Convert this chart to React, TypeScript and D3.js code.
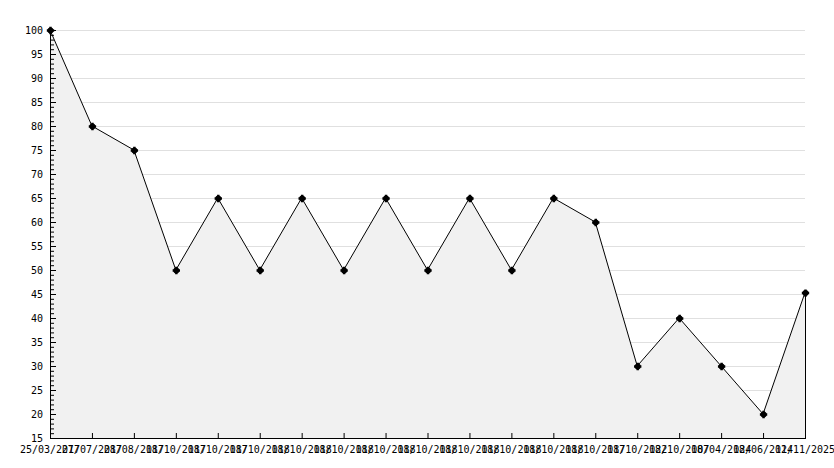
import React from "react";
import * as d3 from "d3";

const dates: string[] = [
  "25/03/2017", "27/07/2017", "28/08/2017", "18/10/2017", "18/10/2017",
  "18/10/2018", "18/10/2018", "18/10/2018", "18/10/2018", "18/10/2018",
  "18/10/2018", "18/10/2018", "18/10/2018", "18/10/2017", "18/10/2022",
  "18/10/2007", "18/04/2024", "18/06/2024", "11/11/2025",
];
const values: number[] = [
  100, 80, 75, 50, 65, 50, 65, 50, 65, 50, 65, 50, 65, 60, 30, 40, 30, 20, 45.3,
];
const yTicks: number[] = [15, 20, 25, 30, 35, 40, 45, 50, 55, 60, 65, 70, 75, 80, 85, 90, 95, 100];

const W = 834;
const H = 468;
const left = 50;
const right = 805;
const top = 30;
const bottom = 438;
const FONT = "'DejaVu Sans Mono', monospace";

export default function App() {
  const x = d3.scalePoint<number>().domain(d3.range(values.length)).range([left, right]);
  const y = d3.scaleLinear().domain([15, 100]).range([bottom, top]);
  const pts: [number, number][] = values.map((v, i) => [x(i)!, y(v)]);
  const line = d3.line<[number, number]>()(pts)!;
  const area = d3
    .area<[number, number]>()
    .x((d) => d[0])
    .y0(bottom)
    .y1((d) => d[1])(pts)!;
  const minor = d3.range(15, 101, 1);
  const lastX = x(values.length - 1)!;
  const lastY = y(values[values.length - 1]);
  const star = d3.symbol().type(d3.symbolCross).size(30)()!;

  return (
    <svg
      width={W}
      height={H}
      style={{ position: "absolute", left: 0, top: 0, background: "#fff" }}
    >
      <rect x={0} y={0} width={W} height={H} fill="#fff" />
      {yTicks.map((t) => (
        <line key={"g" + t} x1={left} x2={right} y1={y(t) + 0.5} y2={y(t) + 0.5} stroke="#e0e0e0" strokeWidth={1} />
      ))}
      <path d={area} fill="#f1f1f1" stroke="none" />
      <line x1={lastX + 0.5} x2={lastX + 0.5} y1={lastY} y2={bottom} stroke="#000" strokeWidth={1} />
      <path d={line} fill="none" stroke="#000" strokeWidth={1} />
      <line x1={left + 0.5} x2={left + 0.5} y1={top} y2={bottom + 0.5} stroke="#000" />
      <line x1={left} x2={right + 1} y1={bottom + 0.5} y2={bottom + 0.5} stroke="#000" />
      {minor.map((t) => (
        <line
          key={"m" + t}
          x1={left}
          x2={left + (t % 5 === 0 ? 6 : 4)}
          y1={y(t) + 0.5}
          y2={y(t) + 0.5}
          stroke="#000"
        />
      ))}
      {values.map((_, i) => (
        <line key={"xt" + i} x1={x(i)! + 0.5} x2={x(i)! + 0.5} y1={bottom} y2={bottom - 5} stroke="#000" />
      ))}
      {yTicks.map((t) => (
        <text
          key={"yl" + t}
          x={43}
          y={y(t) + 4}
          textAnchor="end"
          fontFamily={FONT}
          fontSize={10}
          fill="#000"
        >
          {t}
        </text>
      ))}
      {dates.map((d, i) => (
        <text
          key={"xl" + i}
          x={x(i)!}
          y={453}
          textAnchor="middle"
          fontFamily={FONT}
          fontSize={10}
          fill="#000"
        >
          {d}
        </text>
      ))}
      {pts.map((p, i) => (
        <g key={"p" + i} transform={`translate(${p[0] + 0.5},${p[1] + 0.5})`}>
          <circle r={3} fill="#000" />
          <path d={star} fill="#000" />
        </g>
      ))}
    </svg>
  );
}
